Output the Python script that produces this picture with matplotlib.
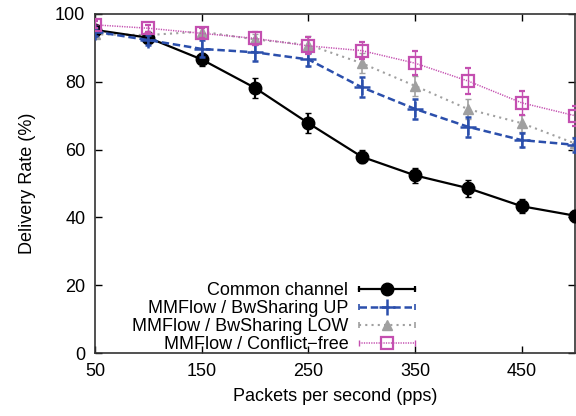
import matplotlib
matplotlib.use("Agg")
import matplotlib.pyplot as plt
from matplotlib.lines import Line2D
from matplotlib.legend_handler import HandlerBase

plt.rcParams['font.family'] = ['Liberation Sans', 'DejaVu Sans']

x = [50, 100, 150, 200, 250, 300, 350, 400, 450, 500]
common = [95.3, 93.0, 86.6, 78.2, 67.8, 57.9, 52.4, 48.6, 43.3, 40.5]
common_err = [1.0, 1.2, 2.0, 3.0, 3.0, 2.0, 2.2, 2.5, 2.0, 1.8]
up = [94.8, 92.3, 89.7, 88.7, 86.6, 78.4, 72.0, 66.7, 62.8, 61.4]
up_err = [1.2, 1.5, 2.5, 2.5, 2.0, 3.0, 3.0, 3.0, 2.0, 2.0]
low = [94.0, 93.8, 94.8, 92.5, 90.9, 85.5, 78.8, 71.9, 67.8, 61.8]
low_err = [1.2, 1.2, 1.5, 1.5, 2.5, 3.0, 3.0, 3.0, 2.5, 2.0]
free = [96.8, 95.8, 94.3, 92.8, 90.6, 89.2, 85.5, 80.2, 73.8, 70.0]
free_err = [1.0, 1.0, 1.5, 2.0, 2.5, 2.5, 3.5, 3.8, 3.5, 3.0]

labels = ["Common channel", "MMFlow / BwSharing UP", "MMFlow / BwSharing LOW", "MMFlow / Conflict\u2212free"]
xticks = [50, 150, 250, 350, 450]
yticks = [0, 20, 40, 60, 80, 100]

styles = [
    dict(color='black', lw=1.6, ls='-', marker='o', ms=9, mfc='black', mew=1.0, elw=1.6, ecap=1.6),
    dict(color='#2b4fac', lw=1.8, ls=(0, (3, 1.5)), marker='+', ms=11, mfc='#2b4fac', mew=1.8, elw=1.2, ecap=1.2),
    dict(color='#a0a0a0', lw=1.5, ls=(0, (1, 2)), marker='^', ms=7.5, mfc='#a0a0a0', mew=1.0, elw=1.2, ecap=1.2),
    dict(color='#c44fb0', lw=1.1, ls=(0, (0.8, 0.8)), marker='s', ms=8.5, mfc='none', mew=1.6, elw=1.0, ecap=1.0),
]
series = [(common, common_err), (up, up_err), (low, low_err), (free, free_err)]
zord = [3, 4, 2, 5]

fig = plt.figure(figsize=(5.76, 4.16), dpi=100)
ax = fig.add_axes([95/576, 63/416, 480/576, 339/416])

for (y, e), st, lab, z in zip(series, styles, labels, zord):
    ax.errorbar(x, y, yerr=e, color=st['color'], lw=st['lw'], ls=st['ls'], marker=st['marker'],
                ms=st['ms'], mfc=st['mfc'], mec=st['color'], mew=st['mew'],
                capsize=2.5, elinewidth=st['elw'], capthick=st['ecap'], label=lab, zorder=z)


class ErrHandler(HandlerBase):
    def __init__(self, st):
        super().__init__()
        self.st = st

    def create_artists(self, legend, orig_handle, xdescent, ydescent, width, height, fontsize, trans):
        st = self.st
        yc = height / 2 - ydescent
        x0, x1 = -xdescent, -xdescent + width
        line = Line2D([x0, x1], [yc, yc], color=st['color'], lw=st['lw'], ls=st['ls'], transform=trans)
        caps = Line2D([x0, x1], [yc, yc], ls='none', marker='|', ms=5, mew=st['ecap'],
                      color=st['color'], transform=trans)
        mk = Line2D([(x0 + x1) / 2], [yc], ls='none', marker=st['marker'], ms=st['ms'],
                    mfc=st['mfc'], mec=st['color'], mew=st['mew'], transform=trans)
        return [line, caps, mk]


handles = [Line2D([], []) for _ in labels]
hmap = {h: ErrHandler(st) for h, st in zip(handles, styles)}

ax.set_xlim(50, 500)
ax.set_ylim(0, 100)
ax.set_xticks(xticks)
ax.set_yticks(yticks)
ax.tick_params(direction='in', top=True, right=True, labelsize=13, length=5, width=1, pad=7)
for s in ax.spines.values():
    s.set_linewidth(1.2)
    s.set_color('#333333')
ax.set_xlabel("Packets per second (pps)", fontsize=13, labelpad=6)
ax.set_ylabel("Delivery Rate (%)", fontsize=13, labelpad=14)

leg = ax.legend(handles, labels, handler_map=hmap, loc='lower right', bbox_to_anchor=(0.667, 0.0),
                markerfirst=False, frameon=False, fontsize=13, handlelength=3.1,
                labelspacing=0.05, handletextpad=0.6, borderpad=0.0, borderaxespad=0.0)
for t in leg.get_texts():
    t.set_ha('right')

fig.savefig("out.png", dpi=100)
